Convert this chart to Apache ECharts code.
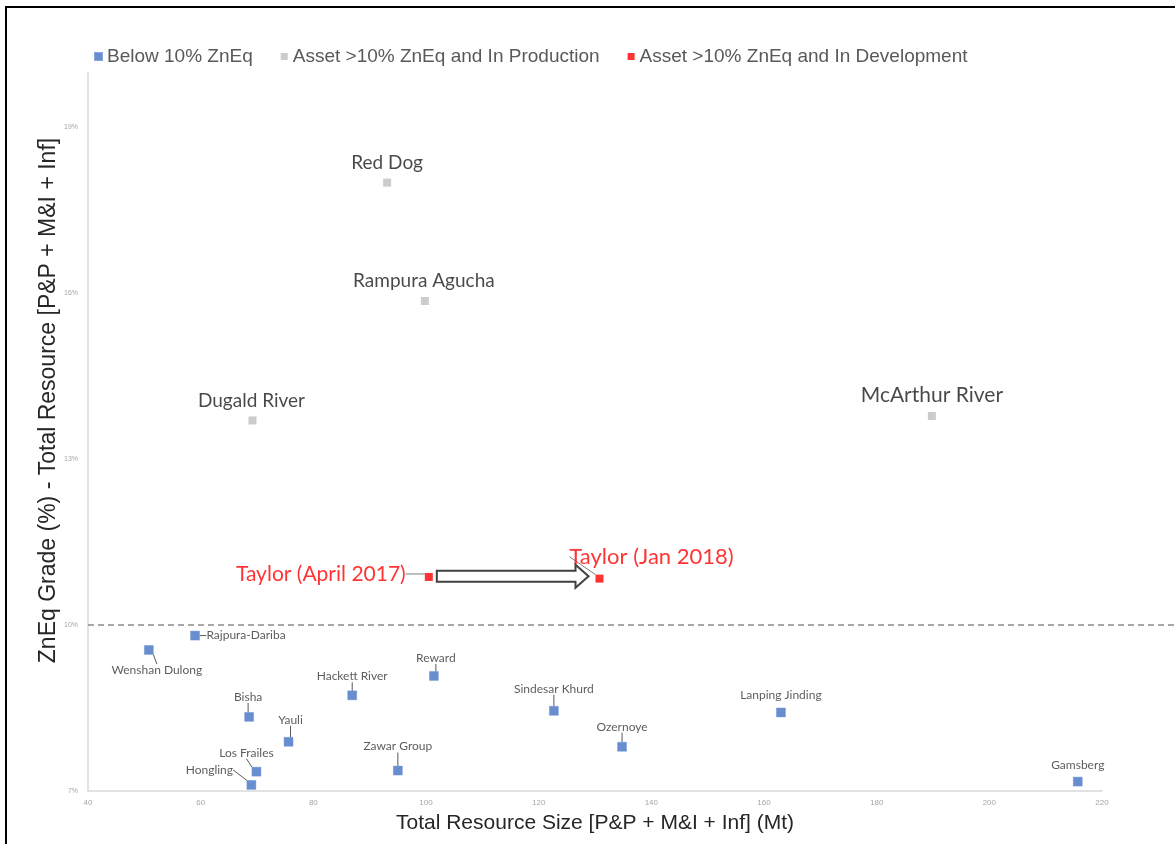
<!DOCTYPE html>
<html>
<head>
<meta charset="utf-8">
<script src="https://cdn.jsdelivr.net/npm/echarts@6/dist/echarts.min.js"></script>
<style>
  html, body { margin: 0; padding: 0; background: #fff; }
  #main { width: 1175px; height: 844px; }
</style>
</head>
<body>
<div id="main"></div>
<script>
// assets below 10% ZnEq
var belowNames = ['Wenshan Dulong', 'Rajpura-Dariba', 'Bisha', 'Yauli', 'Los Frailes', 'Hongling', 'Hackett River',
  'Zawar Group', 'Reward', 'Sindesar Khurd', 'Ozernoye', 'Lanping Jinding', 'Gamsberg'];
var belowSize = [50.8, 59.0, 68.6, 75.6, 69.9, 69.0, 86.9, 95.0, 101.4, 122.7, 134.8, 163.0, 215.7];
var belowGrade = [9.55, 9.81, 8.34, 7.89, 7.35, 7.11, 8.73, 7.37, 9.08, 8.45, 7.80, 8.42, 7.17];

// >10% ZnEq, in production
var prodNames = ['Red Dog', 'Rampura Agucha', 'Dugald River', 'McArthur River'];
var prodSize = [93.1, 99.8, 69.2, 189.8];
var prodGrade = [18.0, 15.86, 13.70, 13.78];

// >10% ZnEq, in development
var devNames = ['Taylor (April 2017)', 'Taylor (Jan 2018)'];
var devSize = [100.5, 130.8];
var devGrade = [10.87, 10.84];

var xTicks = [40, 60, 80, 100, 120, 140, 160, 180, 200, 220];
var yTicks = [7, 10, 13, 16, 19];
var thresholdGrade = 10;

// label placement (offset of label centre from marker, px)
var labelOffset = {
  'Wenshan Dulong': [8, 20], 'Rajpura-Dariba': [51, 0], 'Bisha': [-1, -20], 'Yauli': [2, -22],
  'Los Frailes': [-10, -19], 'Hongling': [-42, -15], 'Hackett River': [0, -19], 'Zawar Group': [0, -24],
  'Reward': [2, -18], 'Sindesar Khurd': [0, -22], 'Ozernoye': [0, -20], 'Lanping Jinding': [0, -17],
  'Gamsberg': [0, -16],
  'Red Dog': [0, -20], 'Rampura Agucha': [-1, -20], 'Dugald River': [-1, -20], 'McArthur River': [0, -21],
  'Taylor (April 2017)': [-108, -3], 'Taylor (Jan 2018)': [52, -22]
};
// a few labels are set larger in the original
var labelFont = { 'McArthur River': 21, 'Taylor (Jan 2018)': 22 };
var noLeader = ['Lanping Jinding', 'Gamsberg'];

function makeData(names, xs, ys) {
  return names.map(function (n, i) {
    var item = { name: n, value: [xs[i], ys[i]] };
    if (noLeader.indexOf(n) >= 0) item.labelLine = { show: false };
    if (labelFont[n]) item.label = { fontSize: labelFont[n] };
    return item;
  });
}

function placeLabel(params) {
  var off = labelOffset[params.text] || [0, -18];
  return {
    x: params.rect.x + params.rect.width / 2 + off[0],
    y: params.rect.y + params.rect.height / 2 + off[1],
    align: 'center',
    verticalAlign: 'middle'
  };
}

var myChart = echarts.init(document.getElementById('main'));

var frame = {
  type: 'rect', silent: true, z: 100,
  shape: { x: 6, y: 7, width: 1400, height: 1000 },
  style: { fill: 'none', stroke: '#000', lineWidth: 2 }
};

myChart.setOption({
  animation: false,
  backgroundColor: '#ffffff',
  textStyle: { fontFamily: 'Liberation Sans' },
  legend: {
    left: 89,
    top: 42,
    itemWidth: 7,
    itemHeight: 7,
    itemGap: 28,
    icon: 'rect',
    textStyle: { fontSize: 19, color: '#595959', fontFamily: 'Liberation Sans' },
    data: ['Below 10% ZnEq', 'Asset >10% ZnEq and In Production', 'Asset >10% ZnEq and In Development']
  },
  grid: { left: 88, right: 73, top: 72, bottom: 53 },
  xAxis: {
    type: 'value',
    min: xTicks[0],
    max: xTicks[xTicks.length - 1],
    interval: 20,
    name: 'Total Resource Size [P&P + M&I + Inf] (Mt)',
    nameLocation: 'middle',
    nameGap: 22,
    nameTextStyle: { fontSize: 21, color: '#262626', verticalAlign: 'top' },
    axisLine: { lineStyle: { color: '#d9d9d9', width: 1.5 } },
    axisTick: { show: false },
    splitLine: { show: false },
    axisLabel: { fontSize: 8, color: '#a6a6a6', margin: 8 }
  },
  yAxis: {
    type: 'value',
    min: yTicks[0],
    max: 20,
    interval: 3,
    name: 'ZnEq Grade (%) - Total Resource [P&P + M&I + Inf]',
    nameLocation: 'middle',
    nameGap: 28,
    nameMoveOverlap: false,
    nameTextStyle: { fontSize: 23, color: '#262626', padding: [0, 0, 0, 62] },
    axisLine: { show: true, lineStyle: { color: '#d9d9d9', width: 1.5 } },
    axisTick: { show: false },
    splitLine: { show: false },
    axisLabel: { fontSize: 7, color: '#a6a6a6', margin: 10, formatter: '{value}%', showMaxLabel: false }
  },
  graphic: [frame],
  series: [
    {
      name: 'Below 10% ZnEq',
      type: 'scatter',
      symbol: 'rect',
      symbolSize: 9,
      itemStyle: { color: '#4472c4', borderColor: '#6a8fd6', borderWidth: 0.5 },
      label: {
        show: true, formatter: '{b}', position: 'top',
        fontFamily: 'Lato', fontSize: 12, color: '#333333'
      },
      labelLine: { show: true, lineStyle: { color: '#595959', width: 1 } },
      labelLayout: placeLabel,
      data: makeData(belowNames, belowSize, belowGrade)
    },
    {
      name: 'Asset >10% ZnEq and In Production',
      type: 'scatter',
      symbol: 'rect',
      symbolSize: 8,
      itemStyle: { color: '#bfbfbf' },
      label: {
        show: true, formatter: '{b}', position: 'top',
        fontFamily: 'Lato', fontSize: 19, color: '#1a1a1a'
      },
      labelLayout: placeLabel,
      data: makeData(prodNames, prodSize, prodGrade)
    },
    {
      name: 'Asset >10% ZnEq and In Development',
      type: 'scatter',
      symbol: 'rect',
      symbolSize: 8,
      itemStyle: { color: '#ff0000' },
      label: {
        show: true, formatter: '{b}', position: 'top',
        fontFamily: 'Lato', fontSize: 21, color: '#ff0000'
      },
      labelLine: { show: true, lineStyle: { color: '#7f7f7f', width: 1 } },
      labelLayout: placeLabel,
      data: makeData(devNames, devSize, devGrade)
    }
  ]
});

// threshold line and the Taylor arrow, placed through the axes
var left = myChart.convertToPixel({ gridIndex: 0 }, [xTicks[0], thresholdGrade]);
var a = myChart.convertToPixel({ gridIndex: 0 }, [devSize[0], devGrade[0]]);
var b = myChart.convertToPixel({ gridIndex: 0 }, [devSize[1], devGrade[1]]);
var x0 = a[0] + 8, x1 = b[0] - 11, cy = (a[1] + b[1]) / 2 - 1.5;
var hb = x1 - 13;
myChart.setOption({
  graphic: [
    frame,
    {
      type: 'line', silent: true, z: 1,
      shape: { x1: left[0], y1: left[1], x2: myChart.getWidth(), y2: left[1] },
      style: { stroke: '#8c8c8c', lineWidth: 1.5, lineDash: [6, 4] }
    },
    {
      type: 'polygon', silent: true, z: 5,
      shape: {
        points: [[x0, cy - 5.5], [hb, cy - 5.5], [hb, cy - 11.5], [x1, cy], [hb, cy + 11.5],
          [hb, cy + 5.5], [x0, cy + 5.5]]
      },
      style: { fill: '#ffffff', stroke: '#404040', lineWidth: 2 }
    }
  ]
});
</script>
</body>
</html>
